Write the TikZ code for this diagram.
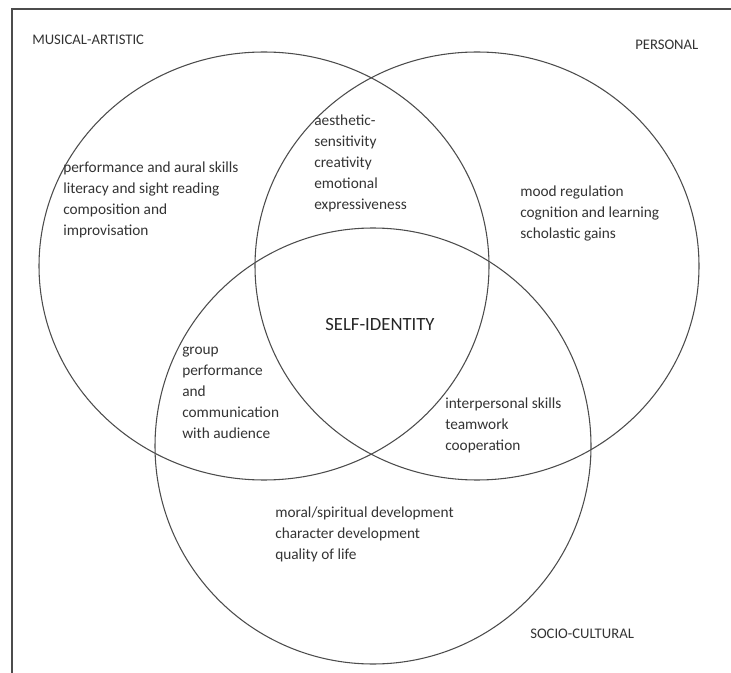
\documentclass[tikz,border=0pt]{standalone}
\usepackage{fontspec}
\setmainfont{Carlito}
\begin{document}
\begin{tikzpicture}[x=0.75pt,y=-0.75pt,
	ring/.style={draw=black!70, line width=0.8pt},
	area/.style={anchor=west, inner sep=0pt, align=left, text=black!80, font=\fontsize{11.5}{15.75}\selectfont},
	title/.style={anchor=west, inner sep=0pt, text=black!80, font=\fontsize{11}{13}\selectfont}]

	\useasboundingbox (0,0) rectangle (731,673);
	\draw [black!70, line width=1.2pt] (12,673) -- (12,9) -- (731,9);

	\draw [ring] (264,266) ellipse [x radius=225, y radius=214];
	\draw [ring] (477,266) ellipse [x radius=222, y radius=214];
	\draw [ring] (373,446) circle [radius=218];

	\draw (32,40) node[title] (musical) {MUSICAL-ARTISTIC};
	\draw (635,45) node[title] (personal) {PERSONAL};
	\draw (530,634) node[title] (socio) {SOCIO-CULTURAL};
	\draw (380,325) node[inner sep=0pt, text=black!85, font=\fontsize{14}{16}\selectfont] (self) {SELF-IDENTITY};

	\draw (63,200) node[area] (skills) {performance and aural skills\\literacy and sight reading\\composition and\\improvisation};
	\draw (314,163) node[area] (aesthetic) {aesthetic-\\sensitivity\\creativity\\emotional\\expressiveness};
	\draw (520,213) node[area] (mood) {mood regulation\\cognition and learning\\scholastic gains};
	\draw (182,393) node[area] (group) {group\\performance\\and\\communication\\with audience};
	\draw (445,425) node[area] (social) {interpersonal skills\\teamwork\\cooperation};
	\draw (275,534) node[area] (moral) {moral/spiritual development\\character development\\quality of life};
\end{tikzpicture}
\end{document}
